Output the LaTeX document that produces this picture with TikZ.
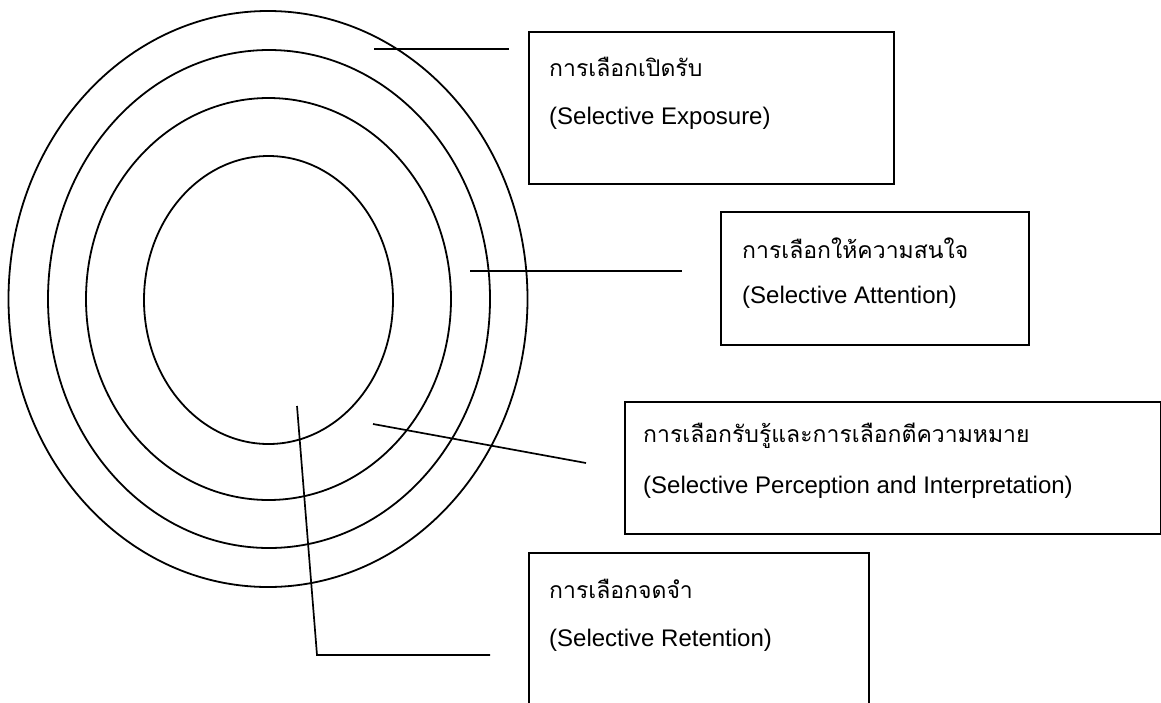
\documentclass[tikz,border=0pt]{standalone}
\usepackage{fontspec}
\setmainfont{Liberation Sans}
\newfontfamily\thai[Script=Thai]{Loma}
\usetikzlibrary{shapes.geometric}
\begin{document}
\begin{tikzpicture}[x=1pt,y=-1pt,
  ring/.style={draw, ellipse, line width=1.8pt, inner sep=0pt},
  box/.style={draw, line width=1.9pt, anchor=north west, inner sep=0pt},
  lead/.style={line width=1.7pt},
  en/.style={anchor=west, font=\fontsize{24}{28}\selectfont, inner sep=0pt},
  th/.style={anchor=west, font=\fontsize{23}{28}\selectfont\thai, inner sep=0pt}]
\useasboundingbox (0,0) rectangle (1161,702);
\clip (0,0) rectangle (1161,702);
% rings
\node[ring, minimum width=519pt, minimum height=576pt] (r1) at (268,299) {};
\node[ring, minimum width=442pt, minimum height=498pt] (r2) at (269,299) {};
\node[ring, minimum width=365pt, minimum height=402pt] (r3) at (268.5,299) {};
\node[ring, minimum width=249pt, minimum height=288pt] (r4) at (268.5,300) {};
% boxes
\node[box, minimum width=365pt, minimum height=152pt] (b1) at (528,31) {};
\node[box, minimum width=308pt, minimum height=133pt] (b2) at (720,211) {};
\node[box, minimum width=536pt, minimum height=132pt] (b3) at (624,401) {};
\node[box, minimum width=340pt, minimum height=170pt] (b4) at (528,552) {};
% texts
\node[th] (t1a) at (549,67) {การเลือกเปิดรับ};
\node[en] (t1b) at (549,118) {(Selective Exposure)};
\node[th] (t2a) at (742,248) {การเลือกให้ความสนใจ};
\node[en] (t2b) at (742,297) {(Selective Attention)};
\node[th] (t3a) at (643,436) {การเลือกรับรู้และการเลือกตีความหมาย};
\node[en] (t3b) at (643,487) {(Selective Perception and Interpretation)};
\node[th] (t4a) at (549,589) {การเลือกจดจำ};
\node[en] (t4b) at (549,640) {(Selective Retention)};
% leader lines
\coordinate (l1a) at (374,49); \coordinate (l1b) at (509,49);
\coordinate (l2a) at (470,271); \coordinate (l2b) at (682,271);
\coordinate (l3a) at (373,424); \coordinate (l3b) at (586,463);
\coordinate (l4a) at (297,406); \coordinate (l4m) at (317,655); \coordinate (l4b) at (490,655);
\draw[lead] (l1a) -- (l1b);
\draw[lead] (l2a) -- (l2b);
\draw[lead] (l3a) -- (l3b);
\draw[lead] (l4a) -- (l4m) -- (l4b);
\end{tikzpicture}
\end{document}
